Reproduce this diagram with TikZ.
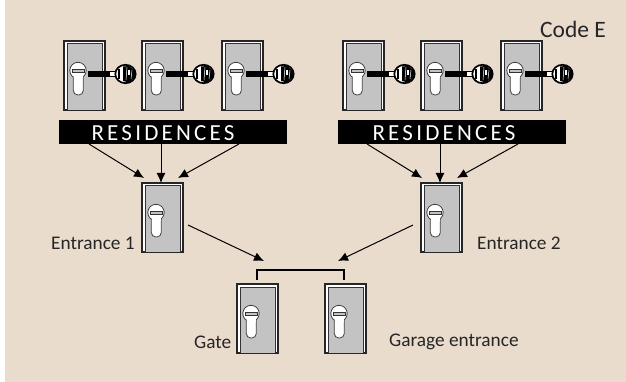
\documentclass[tikz,border=0pt]{standalone}
\usepackage{fontspec}
\setmainfont{Carlito}
\usetikzlibrary{arrows.meta,calc}
\definecolor{bgc}{HTML}{E9DCCD}
\definecolor{lockgray}{HTML}{C3C3C3}
\tikzset{
 lockbox/.style={draw=black!85,line width=1.1pt,fill=white,minimum width=41pt,minimum height=69pt,inner sep=0pt,outer sep=0pt},
 barbox/.style={fill=black,minimum width=228pt,minimum height=24pt,inner sep=0pt,outer sep=0pt,text=white},
 lbl/.style={font=\fontsize{19.3}{20}\selectfont,text=black!85,inner sep=0pt},
 conn/.style={line width=1pt,-{Latex[length=10pt,width=9pt]}},
 bracket/.style={line width=2pt,line cap=butt}
}
\newfontfamily\barfont[LetterSpace=14]{Carlito}
\newcommand{\lockat}[3]{%
 \node[lockbox] (#1) at (#2+20.5,#3+34.5) {};
 \begin{scope}[shift={(#2,#3)}]
  \fill[lockgray] (3,3) rectangle (38,69);
  \draw[line width=1pt,black!80] (3,69) -- (3,3) -- (38,3) -- (38,69);
  \draw[black!75,line width=.8pt,fill=white] (14,29.5) circle (8.2);
  \draw[black!75,line width=.8pt,fill=white,rounded corners=4.5pt]
    (9.3,36) -- (9.3,54) -- (19.3,54) -- (19.3,36);
  \fill[white] (9.7,31) rectangle (18.9,37.5);
  \draw[black!80,line width=.8pt,fill=lockgray] (8.5,28) rectangle (20,31.5);
 \end{scope}}
\newcommand{\keyat}[2]{%
 \begin{scope}[shift={(#1,#2)}]
  \fill[black] (0,-3.3) rectangle (21,3);
  \fill[white,draw=black,line width=.5pt] (21,-2.5) rectangle (27,2.5);
  \draw[black,line width=1.7pt,fill=white] (37.5,0) ellipse (10.2 and 9.2);
  \fill[black] (35,-7.5) -- (41,-8) -- (47,-3) -- (47,3) -- (41,8.5) -- (35,7) -- cycle;
  \draw[white,line width=.5pt] (39,-7) -- (38,6) (44,-4) -- (43,5);
  \fill[white] (40,-3.5) rectangle (42,1);
  \draw[black,line width=1.1pt] (31,-5) -- (31,5);
 \end{scope}}
\begin{document}
\begin{tikzpicture}[x=1pt,y=-1pt]
\useasboundingbox (0,0) rectangle (626,382);
\fill[white] (0,0) rectangle (626,382);
\fill[bgc] (5,0) rectangle (626,381.5);
% top locks
\lockat{a1}{64}{41}\keyat{88}{74}
\lockat{a2}{142}{41}\keyat{166}{74}
\lockat{a3}{222}{41}\keyat{246}{74}
\lockat{b1}{343}{41}\keyat{367}{74}
\lockat{b2}{421}{41}\keyat{445}{74}
\lockat{b3}{501}{41}\keyat{525}{74}
% bars
\node[barbox] (r1) at (173,132) {};
\node[barbox] (r2) at (452,132) {};
\node[text=white,inner sep=0pt,font=\barfont\fontsize{23}{23}\selectfont] (r1t) at (163,133) {RESIDENCES};
\node[text=white,inner sep=0pt,font=\barfont\fontsize{23}{23}\selectfont] (r2t) at (444,133) {RESIDENCES};
% entrances
\lockat{e1}{142}{183}
\lockat{e2}{421}{183}
\lockat{g}{237}{284}
\lockat{h}{325}{284}
% free ends
\coordinate (r1a) at (89,144); \coordinate (r1b) at (161,144); \coordinate (r1c) at (239,144);
\coordinate (r2a) at (367,144); \coordinate (r2b) at (440,144); \coordinate (r2c) at (518,144);
\coordinate (e1a) at (144,178); \coordinate (e1b) at (161,183); \coordinate (e1c) at (178,178);
\coordinate (e2a) at (422,178); \coordinate (e2b) at (440,183); \coordinate (e2c) at (457,178);
\coordinate (e1o) at (188,225); \coordinate (e2o) at (413,225);
\coordinate (m1) at (264,261); \coordinate (m2) at (338,261);
\coordinate (g1) at (257,280); \coordinate (h1) at (344,280);
\draw[conn] (r1a) -- (e1a);
\draw[conn] (r1b) -- (e1b);
\draw[conn] (r1c) -- (e1c);
\draw[conn] (r2a) -- (e2a);
\draw[conn] (r2b) -- (e2b);
\draw[conn] (r2c) -- (e2c);
\draw[conn] (e1o) -- (m1);
\draw[conn] (e2o) -- (m2);
\draw[bracket] (g1) -- (257,270) -- (344,270) -- (h1);
% labels
\node[lbl,font=\fontsize{23.5}{24}\selectfont,anchor=west] (tc) at (540,29) {Code E};
\node[lbl,anchor=west] (t1) at (51,243) {Entrance 1};
\node[lbl,anchor=west] (t2) at (477,243) {Entrance 2};
\node[lbl,anchor=west] (t3) at (194,342) {Gate};
\node[lbl,anchor=west] (t4) at (389,342) {Garage entrance};
\end{tikzpicture}
\end{document}
